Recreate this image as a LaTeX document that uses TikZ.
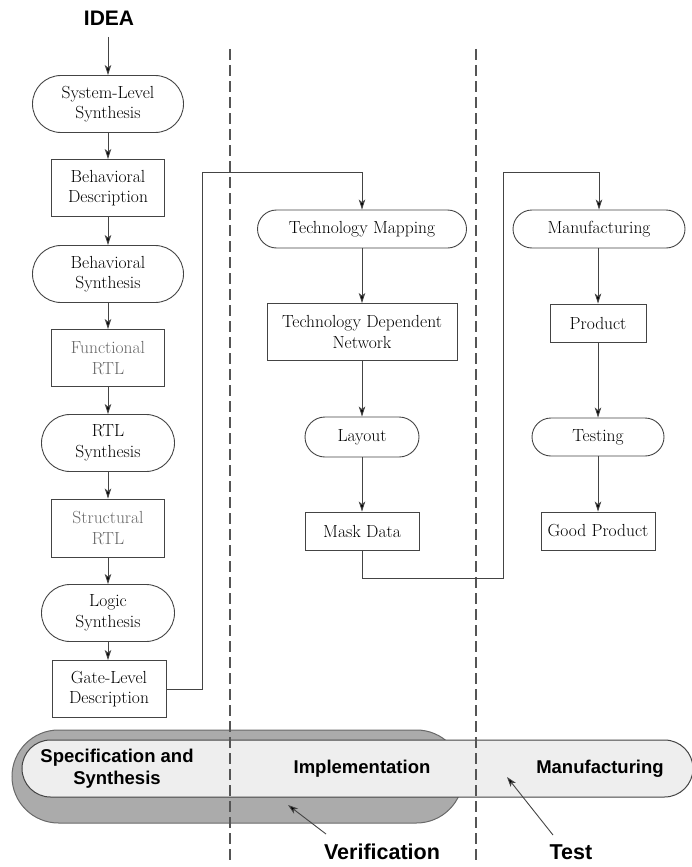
\documentclass[tikz,border=0pt]{standalone}
\usepackage{fontspec}
\newfontfamily\hv{Liberation Sans}
\usetikzlibrary{arrows.meta}
\definecolor{ln}{HTML}{444444}
\definecolor{dsh}{HTML}{555555}
\definecolor{darkband}{HTML}{ABABAB}
\definecolor{lightband}{HTML}{EEEEEE}
\tikzset{
  base/.style={draw=ln, line width=0.9pt, align=center, inner sep=2pt,
    font=\fontsize{17.5}{20.5}\selectfont, text=black},
  pill/.style={base, rectangle},
  flow/.style={draw=ln, line width=0.9pt, -{Stealth[length=10pt,width=6.5pt,inset=2.5pt,fill=black]}},
  divider/.style={draw=dsh, line width=1.7pt, dash pattern=on 11pt off 5pt},
  bandlabel/.style={font=\hv\bfseries\fontsize{18.5}{22}\selectfont, align=center},
  biglabel/.style={font=\hv\bfseries\fontsize{21.5}{24}\selectfont},
}
\begin{document}
\begin{tikzpicture}[x=1pt,y=-1pt]
\useasboundingbox (0,0) rectangle (692,867);

% bottom bands
\path[fill=darkband, draw=ln!80, line width=1pt, rounded corners=46.5pt] (12,730) rectangle (463,823);
\path[fill=lightband, draw=ln, line width=1pt, rounded corners=28.5pt] (22,740) rectangle (693,797);

% dividers
\draw[divider] (230,49) -- (230,862);
\draw[divider] (476,49) -- (476,862);

% title
\node[font=\hv\bfseries\fontsize{21}{24}\selectfont] (idea) at (109,18) {IDEA};

% left column
\node[pill, minimum width=151pt, minimum height=57pt, rounded corners=28.5pt] (sls) at (108,104) {System-Level\\Synthesis};
\node[base, minimum width=113pt, minimum height=57pt] (bd) at (108,188) {Behavioral\\Description};
\node[pill, minimum width=151pt, minimum height=57pt, rounded corners=28.5pt] (bs) at (108,274) {Behavioral\\Synthesis};
\node[base, minimum width=113pt, minimum height=57pt, text=black!60] (fr) at (108,358) {Functional\\RTL};
\node[pill, minimum width=133pt, minimum height=57pt, rounded corners=28.5pt] (rs) at (108,443) {RTL\\Synthesis};
\node[base, minimum width=113pt, minimum height=58pt, text=black!60] (sr) at (108,528) {Structural\\RTL};
\node[pill, minimum width=133pt, minimum height=57pt, rounded corners=28.5pt] (ls) at (108,613) {Logic\\Synthesis};
\node[base, minimum width=114pt, minimum height=57pt] (gld) at (109,689) {Gate-Level\\Description};

% middle column
\node[pill, minimum width=209pt, minimum height=38pt, rounded corners=19pt] (tm) at (362,229) {Technology Mapping};
\node[base, minimum width=190pt, minimum height=57pt] (tdn) at (362,332) {Technology Dependent\\Network};
\node[pill, minimum width=114pt, minimum height=40pt, rounded corners=20pt] (lay) at (362,437) {Layout};
\node[base, minimum width=114pt, minimum height=38pt] (md) at (362,531) {Mask Data};

% right column
\node[pill, minimum width=172pt, minimum height=38pt, rounded corners=19pt] (man) at (599,229) {Manufacturing};
\node[base, minimum width=96pt, minimum height=38pt] (prod) at (598,323) {Product};
\node[pill, minimum width=132pt, minimum height=38pt, rounded corners=19pt] (test) at (598,437) {Testing};
\node[base, minimum width=114pt, minimum height=38pt] (gp) at (598,531) {Good Product};

% arrows left
\coordinate (i0) at (108,37);
\draw[flow] (i0) -- (sls.north);
\draw[flow] (sls) -- (bd);
\draw[flow] (bd) -- (bs);
\draw[flow] (bs) -- (fr);
\draw[flow] (fr) -- (rs);
\draw[flow] (rs) -- (sr);
\draw[flow] (sr) -- (ls);
\draw[flow] (ls.south) -- (ls.south |- gld.north);

% arrows middle / right
\draw[flow] (tm) -- (tdn);
\draw[flow] (tdn) -- (lay);
\draw[flow] (lay) -- (md);
\draw[flow] (man.south -| prod.north) -- (prod.north);
\draw[flow] (prod) -- (test);
\draw[flow] (test) -- (gp);

% cross connectors
\coordinate (c1) at (202,172);
\draw[flow] (gld.east) -| (c1) -| (tm.north);
\coordinate (c2) at (503,578);
\coordinate (c3) at (503,172);
\draw[flow] (md.south) |- (c2) -- (c3) -| (man.north);

% band labels
\node[bandlabel] (spec) at (117,769) {Specification and\\Synthesis};
\node[bandlabel] (impl) at (362,769) {Implementation};
\node[bandlabel] (manb) at (600,769) {Manufacturing};
\node[biglabel] (ver) at (382,852) {Verification};
\node[biglabel] (tst) at (571,852) {Test};
\coordinate (va) at (288,805);
\coordinate (ta) at (507,777);
\coordinate (v0) at (326,834);
\coordinate (t0) at (553,835);
\draw[flow] (v0) -- (va);
\draw[flow] (t0) -- (ta);
\end{tikzpicture}
\end{document}
